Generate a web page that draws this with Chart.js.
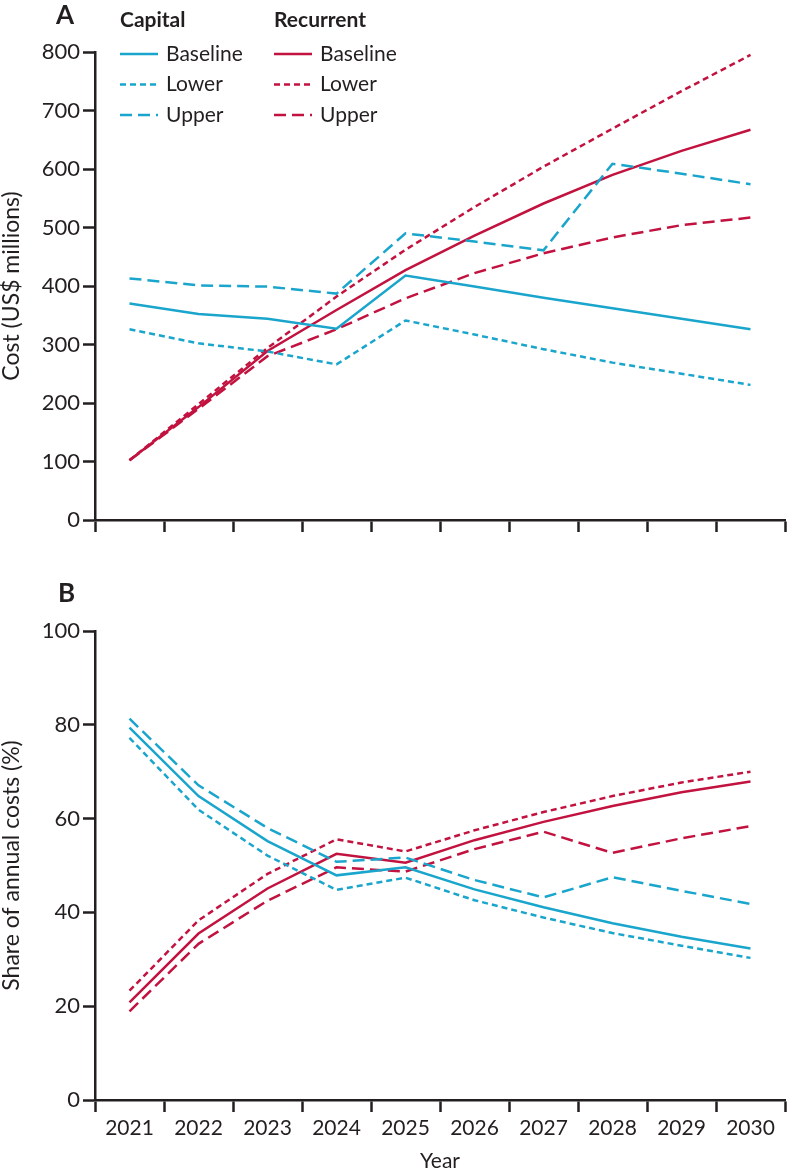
<!DOCTYPE html>
<html>
<head>
<meta charset="utf-8">
<script src="https://cdn.jsdelivr.net/npm/chart.js@4"></script>
<style>
    body { margin: 0; background: #fff; }
    #page { position: relative; width: 788px; height: 1172px; font-family: Lato, "Liberation Sans", sans-serif; color: #231f20; }
    .panel { position: absolute; left: 0; width: 788px; }
    #panelA { top: 0; height: 560px; }
    #panelB { top: 565px; height: 607px; }
    .letter { position: absolute; font-weight: bold; font-size: 26px; line-height: 26px; }
</style>
</head>
<body>
<div id="page">
    <div class="panel" id="panelA"><canvas id="costChart"></canvas></div>
    <div class="panel" id="panelB"><canvas id="shareChart"></canvas></div>
    <div class="letter" style="left:56px; top:1px;">A</div>
    <div class="letter" style="left:58px; top:579px;">B</div>
</div>
<script>
// Données
const years = ["2021", "2022", "2023", "2024", "2025", "2026", "2027", "2028", "2029", "2030"];

// A : coût (US$ millions)
const costCapitalBaseline = [370, 352, 344, 327, 418, 399, 380, 362, 344, 326];
const costCapitalLower = [326, 302, 288, 266, 341, 317, 292, 269, 250, 231];
const costCapitalUpper = [413, 401, 399, 387, 490, 476, 461, 609, 592, 574];
const costRecurrentBaseline = [102, 193, 289, 359, 427, 486, 541, 590, 631, 667];
const costRecurrentLower = [102, 198, 294, 382, 462, 535, 604, 669, 733, 795];
const costRecurrentUpper = [102, 190, 280, 326, 379, 422, 456, 483, 504, 517];

// B : part des coûts annuels (%)
const shareCapitalBaseline = [79.4, 64.8, 55.2, 47.9, 49.6, 44.9, 41.1, 37.7, 34.8, 32.3];
const shareCapitalLower = [77.2, 61.9, 52.1, 44.8, 47.4, 42.6, 38.9, 35.6, 32.9, 30.3];
const shareCapitalUpper = [81.3, 67.1, 58.0, 50.8, 51.7, 46.9, 43.2, 47.5, 44.6, 41.8];
const shareRecurrentBaseline = [20.8, 35.5, 45.1, 52.5, 50.6, 55.4, 59.3, 62.7, 65.6, 67.9];
const shareRecurrentLower = [23.3, 38.3, 48.2, 55.6, 53.0, 57.5, 61.4, 64.8, 67.7, 70.0];
const shareRecurrentUpper = [18.9, 33.3, 42.5, 49.6, 48.7, 53.5, 57.2, 52.7, 55.8, 58.4];

const costTicks = [0, 100, 200, 300, 400, 500, 600, 700, 800];
const shareTicks = [0, 20, 40, 60, 80, 100];

const groups = ["Capital", "Recurrent"];

// Styles
const CYAN = "#1aa5cc";
const RED = "#c2123f";
const INK = "#231f20";
const FONT = "Lato, 'Liberation Sans', sans-serif";
const dashes = { Baseline: [], Lower: [6, 4], Upper: [12, 6] };

function makeDataset(group, variant, data) {
    const color = group === "Capital" ? CYAN : RED;
    return {
        label: variant,
        group: group,
        data: data,
        borderColor: color,
        backgroundColor: color,
        borderWidth: 2.5,
        borderDash: dashes[variant],
        pointRadius: 0,
        tension: 0,
        fill: false
    };
}

// Légende à deux colonnes (Capital / Recurrent) dessinée à partir des datasets
const groupLegend = {
    id: "groupLegend",
    afterDraw(chart, args, opts) {
        if (!opts.display) return;
        const ctx = chart.ctx;
        ctx.save();
        ctx.textBaseline = "middle";
        ctx.textAlign = "left";
        groups.forEach((g, gi) => {
            const x0 = gi === 0 ? 120 : 274;
            ctx.fillStyle = INK;
            ctx.font = "bold 21px " + FONT;
            ctx.fillText(g, x0, 20);
            chart.data.datasets.filter(d => d.group === g).forEach((d, i) => {
                const y = 54 + i * 30.5;
                ctx.strokeStyle = d.borderColor;
                ctx.lineWidth = 2.5;
                ctx.setLineDash(d.borderDash);
                ctx.beginPath();
                ctx.moveTo(x0, y);
                ctx.lineTo(x0 + 38, y);
                ctx.stroke();
                ctx.setLineDash([]);
                ctx.fillStyle = INK;
                ctx.font = "21px " + FONT;
                ctx.fillText(d.label, x0 + 46, y);
            });
        });
        ctx.restore();
    }
};

function buildChart(canvasId, datasets, ticks, yTitle, withYears, pad, xHeight, showLegend) {
    return new Chart(document.getElementById(canvasId), {
        type: "line",
        data: { labels: years, datasets: datasets },
        options: {
            responsive: true,
            maintainAspectRatio: false,
            animation: false,
            layout: { padding: pad },
            plugins: {
                legend: { display: false },
                tooltip: { enabled: false },
                groupLegend: { display: showLegend }
            },
            scales: {
                x: {
                    type: "category",
                    offset: true,
                    grid: {
                        offset: true,
                        drawOnChartArea: false,
                        drawTicks: true,
                        tickLength: 12,
                        tickColor: INK,
                        tickWidth: 2.5
                    },
                    border: { display: true, color: INK, width: 2.5 },
                    ticks: {
                        display: withYears,
                        color: INK,
                        font: { family: FONT, size: 21 },
                        padding: 4,
                        maxRotation: 0,
                        autoSkip: false
                    },
                    title: {
                        display: withYears,
                        text: "Year",
                        color: INK,
                        font: { family: FONT, size: 21, lineHeight: 1 },
                        padding: 0
                    },
                    afterFit(scale) { scale.height = xHeight; }
                },
                y: {
                    min: ticks[0],
                    max: ticks[ticks.length - 1],
                    grid: {
                        drawOnChartArea: false,
                        drawTicks: true,
                        tickLength: 12,
                        tickColor: INK,
                        tickWidth: 2.5
                    },
                    border: { display: true, color: INK, width: 2.5 },
                    ticks: {
                        color: INK,
                        font: { family: FONT, size: 22 },
                        padding: 3
                    },
                    afterBuildTicks(scale) { scale.ticks = ticks.map(v => ({ value: v })); },
                    title: {
                        display: true,
                        text: yTitle,
                        color: INK,
                        font: { family: FONT, size: 23, lineHeight: 1 },
                        padding: 0
                    },
                    afterFit(scale) { scale.width = 95; }
                }
            }
        },
        plugins: [groupLegend]
    });
}

document.addEventListener("DOMContentLoaded", () => {
    const costSets = [
        makeDataset("Capital", "Baseline", costCapitalBaseline),
        makeDataset("Capital", "Lower", costCapitalLower),
        makeDataset("Capital", "Upper", costCapitalUpper),
        makeDataset("Recurrent", "Baseline", costRecurrentBaseline),
        makeDataset("Recurrent", "Lower", costRecurrentLower),
        makeDataset("Recurrent", "Upper", costRecurrentUpper)
    ];
    const shareSets = [
        makeDataset("Capital", "Baseline", shareCapitalBaseline),
        makeDataset("Capital", "Lower", shareCapitalLower),
        makeDataset("Capital", "Upper", shareCapitalUpper),
        makeDataset("Recurrent", "Baseline", shareRecurrentBaseline),
        makeDataset("Recurrent", "Lower", shareRecurrentLower),
        makeDataset("Recurrent", "Upper", shareRecurrentUpper)
    ];

    buildChart("costChart", costSets, costTicks, "Cost (US$ millions)", false,
        { top: 52, right: 3, left: 0, bottom: 0 }, 40, true);
    buildChart("shareChart", shareSets, shareTicks, "Share of annual costs (%)", true,
        { top: 66, right: 3, left: 0, bottom: 0 }, 72, false);
});
</script>
</body>
</html>
